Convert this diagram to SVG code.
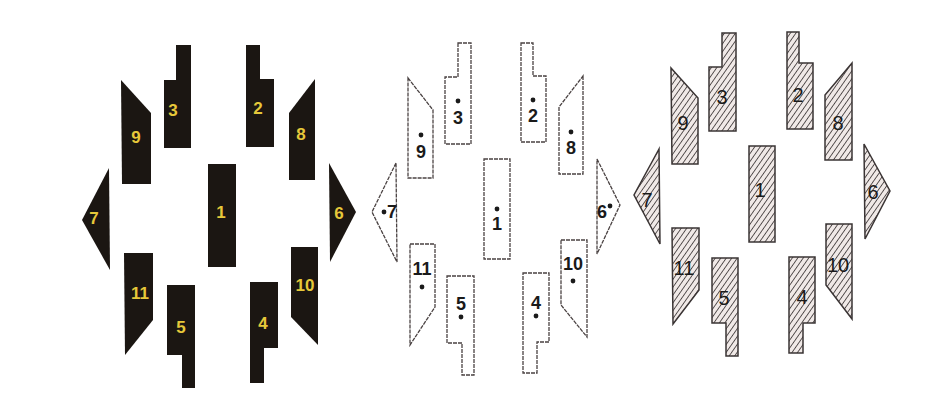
<svg xmlns="http://www.w3.org/2000/svg" width="936" height="411" viewBox="0 0 936 411">
<defs>
<pattern id="hatch" width="4.5" height="4.5" patternUnits="userSpaceOnUse" patternTransform="rotate(35)">
<rect width="4.5" height="4.5" fill="#f0e9e7"/>
<line x1="0" y1="-1" x2="0" y2="5.5" stroke="#383232" stroke-width="1.6"/>
</pattern>
<style>
.blk{fill:#1b1612;}
.yl{font-family:"Liberation Sans",Arial,sans-serif;font-weight:bold;font-size:17px;fill:#e6c83a;text-anchor:middle;}
.out{fill:#ffffff;stroke:#4a4242;stroke-width:1.3;stroke-dasharray:4 1;}
.dk{font-family:"Liberation Sans",Arial,sans-serif;font-weight:bold;font-size:18px;fill:#1a1a1a;text-anchor:middle;}
.dot{fill:#1a1a1a;}
.hat{fill:url(#hatch);stroke:#3a3434;stroke-width:1.5;}
.hl{font-family:"Liberation Sans",Arial,sans-serif;font-size:20px;fill:#1a1a1a;text-anchor:middle;}
</style>
</defs>
<rect width="936" height="411" fill="#ffffff"/>

<g id="panel-black">
<g id="b3"><polygon class="blk" points="176,45 191,45 191,148 164,148 164,80 176,80"/><text class="yl" x="173" y="116">3</text></g>
<g id="b2"><polygon class="blk" points="246,45 260,45 260,79 274,79 274,147 246,147"/><text class="yl" x="258" y="114">2</text></g>
<g id="b9"><polygon class="blk" points="121,80 151,113 151,184 122,184"/><text class="yl" x="136" y="143">9</text></g>
<g id="b8"><polygon class="blk" points="315,79 315,180 289,180 289,113"/><text class="yl" x="301" y="140">8</text></g>
<g id="b1"><rect class="blk" x="208" y="164" width="28" height="103"/><text class="yl" x="221" y="218">1</text></g>
<g id="b7"><polygon class="blk" points="109,168 82,220 110,270"/><text class="yl" x="94" y="224">7</text></g>
<g id="b6"><polygon class="blk" points="329,163 356,212 330,262"/><text class="yl" x="339" y="219">6</text></g>
<g id="b11"><polygon class="blk" points="124,253 153,253 153,320 125,355"/><text class="yl" x="140" y="299">11</text></g>
<g id="b10"><polygon class="blk" points="291,247 318,247 318,345 291,317"/><text class="yl" x="305" y="291">10</text></g>
<g id="b5"><polygon class="blk" points="167,285 195,285 195,388 182,388 182,355 167,355"/><text class="yl" x="181" y="333">5</text></g>
<g id="b4"><polygon class="blk" points="250,282 278,282 278,348 264,348 264,383 250,383"/><text class="yl" x="263" y="329">4</text></g>
</g>

<g id="panel-outline">
<g id="o3"><polygon class="out" points="458,43 471,43 471,144 445,144 445,77 458,77"/><circle class="dot" cx="458" cy="101" r="2.4"/><text class="dk" x="458" y="124">3</text></g>
<g id="o2"><polygon class="out" points="521,43 533,43 533,76 546,76 546,142 521,142"/><circle class="dot" cx="533" cy="100" r="2.4"/><text class="dk" x="533" y="122">2</text></g>
<g id="o9"><polygon class="out" points="408,78 433,110 433,178 408,178"/><circle class="dot" cx="421" cy="135" r="2.4"/><text class="dk" x="421" y="158">9</text></g>
<g id="o8"><polygon class="out" points="583,76 583,174 559,174 559,107"/><circle class="dot" cx="571" cy="132" r="2.4"/><text class="dk" x="571" y="154">8</text></g>
<g id="o1"><rect class="out" x="484" y="159" width="26" height="100"/><circle class="dot" cx="497" cy="209" r="2.4"/><text class="dk" x="497" y="230">1</text></g>
<g id="o7"><polygon class="out" points="396,163 372,212 397,262"/><circle class="dot" cx="384" cy="212" r="2.4"/><text class="dk" x="392" y="218">7</text></g>
<g id="o6"><polygon class="out" points="597,159 620,205 597,254"/><circle class="dot" cx="610" cy="206" r="2.4"/><text class="dk" x="602" y="218">6</text></g>
<g id="o11"><polygon class="out" points="410,244 435,244 435,307 410,345"/><circle class="dot" cx="422" cy="287" r="2.4"/><text class="dk" x="422" y="275">11</text></g>
<g id="o10"><polygon class="out" points="561,240 587,240 587,337 561,305"/><circle class="dot" cx="573" cy="281" r="2.4"/><text class="dk" x="573" y="270">10</text></g>
<g id="o5"><polygon class="out" points="447,276 474,276 474,375 462,375 462,343 447,343"/><circle class="dot" cx="461" cy="317" r="2.4"/><text class="dk" x="461" y="310">5</text></g>
<g id="o4"><polygon class="out" points="523,273 549,273 549,342 537,342 537,373 523,373"/><circle class="dot" cx="536" cy="316" r="2.4"/><text class="dk" x="536" y="309">4</text></g>
</g>

<g id="panel-hatched">
<g id="h3"><polygon class="hat" points="722,33 736,33 736,131 709,131 709,67 722,67"/><text class="hl" x="722" y="104">3</text></g>
<g id="h2"><polygon class="hat" points="787,32 799,32 799,63 813,63 813,129 787,129"/><text class="hl" x="798" y="102">2</text></g>
<g id="h9"><polygon class="hat" points="671,68 698,98 698,164 672,164"/><text class="hl" x="683" y="130">9</text></g>
<g id="h8"><polygon class="hat" points="852,63 852,160 825,160 825,95"/><text class="hl" x="838" y="130">8</text></g>
<g id="h1"><rect class="hat" x="749" y="146" width="26" height="96"/><text class="hl" x="760" y="197">1</text></g>
<g id="h7"><polygon class="hat" points="659,149 634,195 660,244"/><text class="hl" x="647" y="207">7</text></g>
<g id="h6"><polygon class="hat" points="864,144 890,191 865,239"/><text class="hl" x="873" y="199">6</text></g>
<g id="h11"><polygon class="hat" points="672,228 699,228 699,290 673,324"/><text class="hl" x="684" y="275">11</text></g>
<g id="h10"><polygon class="hat" points="826,224 852,224 852,319 826,285"/><text class="hl" x="838" y="272">10</text></g>
<g id="h5"><polygon class="hat" points="712,258 738,258 738,356 726,356 726,323 712,323"/><text class="hl" x="724" y="305">5</text></g>
<g id="h4"><polygon class="hat" points="789,257 815,257 815,323 803,323 803,353 789,353"/><text class="hl" x="802" y="304">4</text></g>
</g>
</svg>
